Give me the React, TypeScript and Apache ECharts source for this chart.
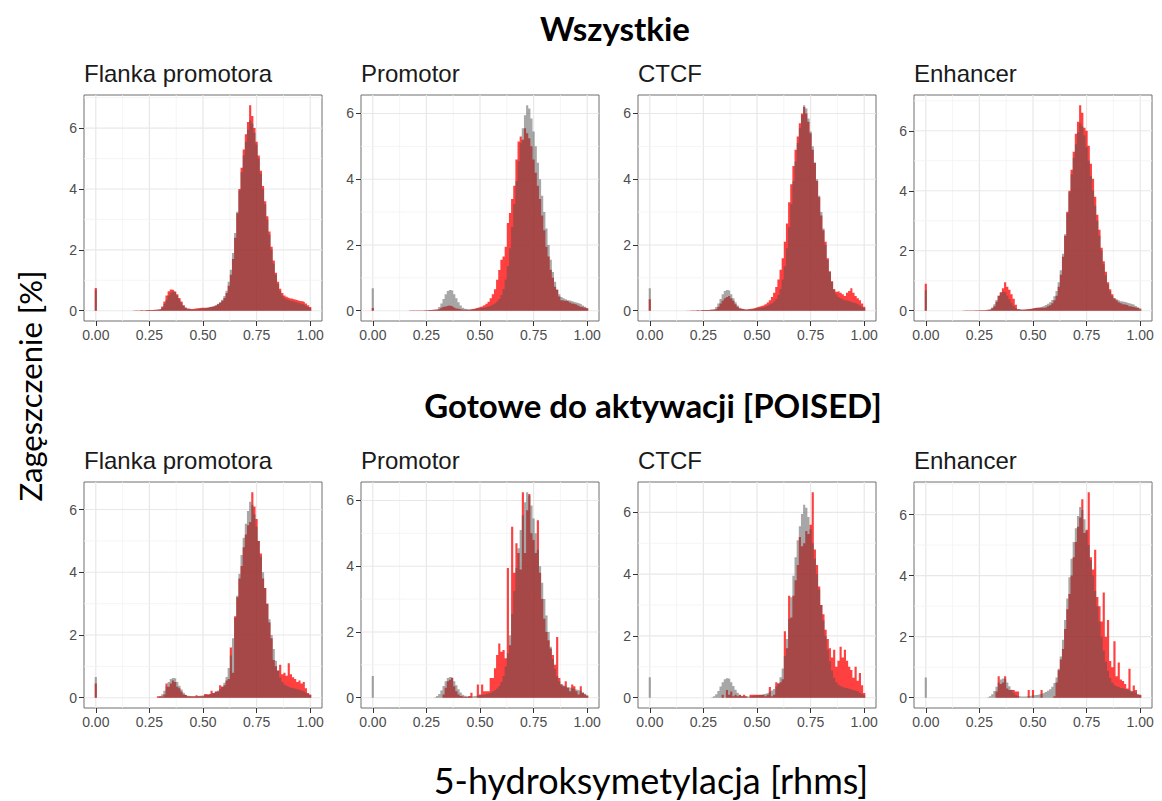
import React, { useEffect, useRef } from "react";
import * as echarts from "echarts";

// ---------- data ----------
const BIN_WIDTH = 0.01;
// bin centres: the 0.00 bin, then 0.17 ... 1.00
const BIN_CENTERS: number[] = [0, ...Array.from({ length: 84 }, (_, i) => Math.round((0.17 + i * 0.01) * 100) / 100)];

const REGIONS = ["Flanka promotora", "Promotor", "CTCF", "Enhancer"];
const ROW_TITLES = ["Wszystkie", "Gotowe do aktywacji [POISED]"];
const X_TICKS = [0, 0.25, 0.5, 0.75, 1];
const X_MINOR = [0.125, 0.375, 0.625, 0.875];
const Y_TICKS = [0, 2, 4, 6];
const Y_MINOR = [1, 3, 5, 7];
const Y_LABEL = "Zagęszczenie [%]";
const X_LABEL = "5-hydroksymetylacja [rhms]";

// each array: [bin 0.00, bins 0.17..0.19, 0.20..0.29, ..., 0.90..0.99, 1.00]
const GREY_ALL = [0.68,
  0.01, 0.01, 0.01,
  0.01, 0.01, 0.01, 0.01, 0.02, 0.02, 0.02, 0.02, 0.03, 0.04,
  0.05, 0.11, 0.22, 0.36, 0.50, 0.60, 0.63, 0.61, 0.50, 0.38,
  0.26, 0.16, 0.09, 0.06, 0.04, 0.04, 0.04, 0.05, 0.06, 0.07,
  0.08, 0.09, 0.10, 0.12, 0.14, 0.16, 0.19, 0.23, 0.28, 0.36,
  0.48, 0.66, 0.95, 1.35, 1.90, 2.55, 3.25, 3.95, 4.55, 5.10,
  5.55, 5.95, 6.25, 6.15, 5.85, 5.45, 5.00, 4.50, 4.00, 3.50,
  3.00, 2.50, 2.00, 1.55, 1.18, 0.88, 0.65, 0.50, 0.42, 0.38,
  0.35, 0.32, 0.30, 0.28, 0.26, 0.24, 0.22, 0.20, 0.16, 0.12,
  0.08];

const GREY_POISED = [0.66,
  0, 0, 0,
  0, 0, 0, 0, 0, 0, 0, 0, 0, 0.02,
  0.05, 0.11, 0.22, 0.36, 0.50, 0.60, 0.63, 0.61, 0.50, 0.38,
  0.26, 0.16, 0.09, 0.06, 0.04, 0.04, 0.04, 0.05, 0.06, 0.07,
  0.08, 0.09, 0.10, 0.12, 0.14, 0.16, 0.19, 0.23, 0.28, 0.36,
  0.48, 0.66, 0.95, 1.35, 1.90, 2.55, 3.25, 3.95, 4.55, 5.10,
  5.55, 5.95, 6.25, 6.15, 5.85, 5.45, 5.00, 4.50, 4.00, 3.50,
  3.00, 2.50, 2.00, 1.55, 1.18, 0.88, 0.65, 0.50, 0.42, 0.38,
  0.35, 0.32, 0.30, 0.28, 0.26, 0.24, 0.22, 0.20, 0.16, 0.12,
  0.08];

const RED_ALL_FLANK = [0.75,
  0.00, 0.01, 0.01,
  0.01, 0.02, 0.01, 0.02, 0.02, 0.02, 0.02, 0.03, 0.03, 0.04,
  0.06, 0.14, 0.30, 0.50, 0.64, 0.70, 0.68, 0.63, 0.54, 0.42,
  0.30, 0.18, 0.11, 0.07, 0.06, 0.06, 0.07, 0.08, 0.09, 0.10,
  0.10, 0.10, 0.11, 0.12, 0.13, 0.15, 0.17, 0.21, 0.26, 0.33,
  0.42, 0.58, 0.82, 1.18, 1.70, 2.40, 3.20, 4.00, 4.70, 5.30,
  5.80, 6.20, 6.75, 6.40, 6.00, 5.55, 5.10, 4.60, 4.10, 3.60,
  3.10, 2.60, 2.10, 1.65, 1.25, 0.95, 0.72, 0.58, 0.50, 0.46,
  0.43, 0.40, 0.38, 0.36, 0.34, 0.32, 0.31, 0.29, 0.24, 0.18,
  0.12];

const RED_ALL_PROMOTER = [0.08,
  0.01, 0.01, 0.01,
  0.01, 0.01, 0.01, 0.01, 0.01, 0.01, 0.02, 0.02, 0.03, 0.03,
  0.04, 0.06, 0.09, 0.12, 0.14, 0.16, 0.15, 0.13, 0.10, 0.07,
  0.05, 0.04, 0.03, 0.03, 0.03, 0.04, 0.05, 0.06, 0.08, 0.10,
  0.12, 0.14, 0.17, 0.21, 0.27, 0.38, 0.50, 0.65, 0.94, 1.24,
  1.55, 1.65, 1.95, 2.67, 2.97, 3.40, 3.80, 4.60, 5.15, 5.30,
  5.20, 5.55, 5.40, 5.25, 5.00, 4.60, 4.20, 3.80, 3.40, 2.90,
  2.45, 1.95, 1.65, 1.25, 1.00, 0.73, 0.63, 0.43, 0.32, 0.30,
  0.30, 0.28, 0.25, 0.22, 0.20, 0.18, 0.15, 0.12, 0.10, 0.08,
  0.06];

const RED_ALL_CTCF = [0.35,
  0.00, 0.00, 0.01,
  0.01, 0.01, 0.02, 0.01, 0.02, 0.02, 0.02, 0.02, 0.03, 0.03,
  0.04, 0.06, 0.12, 0.22, 0.30, 0.38, 0.42, 0.45, 0.38, 0.30,
  0.20, 0.12, 0.07, 0.05, 0.04, 0.04, 0.05, 0.06, 0.07, 0.09,
  0.11, 0.13, 0.15, 0.17, 0.20, 0.25, 0.32, 0.42, 0.55, 0.72,
  0.95, 1.25, 1.60, 2.10, 2.65, 3.30, 3.85, 4.40, 4.90, 5.30,
  5.70, 6.00, 6.20, 6.00, 5.75, 5.40, 4.90, 4.50, 3.95, 3.45,
  2.90, 2.45, 2.10, 1.60, 1.20, 0.90, 0.65, 0.58, 0.60, 0.55,
  0.50, 0.45, 0.55, 0.60, 0.68, 0.55, 0.45, 0.38, 0.32, 0.22,
  0.12];

const RED_ALL_ENHANCER = [0.90,
  0.00, 0.01, 0.01,
  0.01, 0.01, 0.01, 0.02, 0.01, 0.02, 0.02, 0.02, 0.02, 0.03,
  0.04, 0.08, 0.15, 0.30, 0.50, 0.62, 0.75, 0.95, 0.80, 0.70,
  0.55, 0.40, 0.20, 0.05, 0.03, 0.03, 0.04, 0.05, 0.06, 0.07,
  0.08, 0.10, 0.10, 0.10, 0.10, 0.10, 0.12, 0.15, 0.18, 0.25,
  0.35, 0.50, 0.80, 1.20, 1.80, 2.50, 3.30, 4.00, 4.70, 5.30,
  5.90, 6.30, 6.85, 6.60, 6.10, 6.00, 5.50, 4.90, 4.40, 3.80,
  3.20, 2.70, 2.10, 1.65, 1.30, 0.95, 0.72, 0.55, 0.42, 0.35,
  0.28, 0.25, 0.22, 0.20, 0.18, 0.15, 0.13, 0.12, 0.10, 0.08,
  0.05];

const RED_POISED_FLANK = [0.45,
  0, 0, 0,
  0, 0, 0, 0, 0, 0, 0, 0, 0, 0.05,
  0.05, 0.03, 0.10, 0.45, 0.35, 0.45, 0.55, 0.50, 0.35, 0.30,
  0.20, 0.10, 0.08, 0.05, 0.05, 0.05, 0.05, 0.08, 0.05, 0.05,
  0.05, 0.12, 0.10, 0.12, 0.22, 0.15, 0.20, 0.20, 0.40, 0.35,
  0.40, 0.55, 0.60, 1.60, 0.80, 2.60, 3.20, 3.80, 4.20, 4.80,
  5.20, 5.50, 5.60, 6.55, 6.10, 5.70, 5.00, 4.60, 3.80, 3.50,
  3.00, 2.40, 1.90, 1.20, 1.00, 0.85, 1.05, 0.75, 0.80, 0.70,
  1.10, 0.75, 0.65, 0.60, 0.50, 0.55, 0.45, 0.50, 0.30, 0.15,
  0.10];

const RED_POISED_PROMOTER = [0,
  0, 0, 0,
  0, 0, 0, 0, 0, 0, 0, 0, 0, 0,
  0, 0, 0, 0.10, 0.30, 0.50, 0.55, 0.60, 0.35, 0.20,
  0.10, 0.05, 0.03, 0.02, 0.02, 0.05, 0.15, 0, 0, 0.40,
  0.10, 0.40, 0.20, 0.20, 0.20, 0.60, 0.60, 0.90, 1.30, 1.65,
  1.40, 1.45, 1.20, 3.95, 1.60, 5.20, 3.80, 4.70, 4.40, 3.90,
  6.25, 4.40, 5.70, 6.20, 5.00, 4.80, 4.40, 5.40, 3.80, 3.00,
  2.40, 2.00, 1.75, 1.50, 1.30, 1.00, 1.85, 0.60, 0.40, 0.35,
  0.50, 0.30, 0.20, 0.40, 0.35, 0.20, 0.10, 0.35, 0.15, 0.10,
  0.05];

const RED_POISED_CTCF = [0,
  0, 0, 0,
  0, 0, 0, 0, 0, 0, 0, 0, 0, 0,
  0, 0, 0, 0, 0.10, 0, 0.25, 0.10, 0.20, 0.05,
  0.10, 0.05, 0.10, 0.05, 0.10, 0.05, 0, 0.10, 0.10, 0.10,
  0.10, 0.10, 0.10, 0.10, 0.05, 0.10, 0.35, 0.05, 0.10, 0.50,
  0.45, 0.50, 0.60, 2.15, 1.60, 3.30, 2.60, 3.30, 3.80, 4.30,
  5.20, 4.90, 5.00, 5.40, 5.30, 5.60, 6.65, 4.80, 4.30, 3.60,
  3.00, 2.70, 2.20, 1.90, 1.60, 1.30, 1.55, 1.00, 1.20, 1.65,
  1.30, 1.55, 1.20, 1.00, 0.90, 0.65, 1.00, 0.55, 0.80, 0.40,
  0.15];

const RED_POISED_ENHANCER = [0,
  0, 0, 0,
  0, 0, 0, 0, 0, 0, 0, 0, 0, 0,
  0, 0, 0, 0.20, 0.70, 0.45, 0.50, 0.70, 0.30, 0.25,
  0.25, 0.25, 0.20, 0.20, 0, 0, 0, 0, 0.25, 0,
  0.25, 0, 0, 0, 0.25, 0, 0, 0, 0, 0,
  0.05, 0.50, 0.90, 1.25, 1.60, 2.25, 2.90, 3.40, 4.00, 4.60,
  5.10, 5.60, 5.90, 6.50, 5.40, 5.50, 6.73, 4.60, 4.20, 4.85,
  3.30, 3.00, 2.50, 3.45, 2.00, 2.55, 1.20, 1.00, 1.85, 0.70,
  1.15, 0.60, 0.55, 0.45, 0.30, 0.95, 0.20, 0.40, 0.25, 0.10,
  0.10];

const RED_ROWS = [
  [RED_ALL_FLANK, RED_ALL_PROMOTER, RED_ALL_CTCF, RED_ALL_ENHANCER],
  [RED_POISED_FLANK, RED_POISED_PROMOTER, RED_POISED_CTCF, RED_POISED_ENHANCER],
];
const GREY_ROWS = [GREY_ALL, GREY_POISED];

// ---------- layout / style ----------
const PANEL_LEFT = [84, 361, 638, 914];
const PANEL_W = 238;
const ROW_TOP = [95, 482];
const PANEL_H = 226;
const PANEL_TITLE_Y = [73, 460];
const ROW_TITLE_POS = [[615, 28], [653, 405]];
const RED_FILL = "rgba(255,0,0,0.75)";
const GREY_FILL = "rgba(80,80,80,0.5)";
const SANS = "'Liberation Sans', Arial, sans-serif";
const HEAD = "Lato, 'Open Sans', sans-serif";

// histogram outline: each bin contributes its left and right edge at its height
function histogramPoints(values: number[]): number[][] {
  const pts: number[][] = [];
  const half = BIN_WIDTH / 2;
  BIN_CENTERS.forEach((x, k) => {
    const lo = Math.round((x - half) * 1000) / 1000;
    const hi = Math.round((x + half) * 1000) / 1000;
    if (k > 0) {
      const prevHi = Math.round((BIN_CENTERS[k - 1] + half) * 1000) / 1000;
      if (prevHi < lo) {
        pts.push([prevHi, 0]);
        pts.push([lo, 0]);
      }
    } else {
      pts.push([lo, 0]);
    }
    pts.push([lo, values[k]]);
    pts.push([hi, values[k]]);
  });
  const last = BIN_CENTERS[BIN_CENTERS.length - 1] + half;
  pts.push([Math.round(last * 1000) / 1000, 0]);
  return pts;
}

function gridRender(params: any, api: any) {
  const v = api.value(0);
  const orient = api.value(1);
  const major = api.value(2);
  const cs = params.coordSys;
  const style = { stroke: major ? "#e8e8e8" : "#f3f3f3", lineWidth: major ? 1.2 : 0.8 };
  if (orient === 0) {
    const p = api.coord([v, 0]);
    return { type: "line", shape: { x1: p[0], y1: cs.y, x2: p[0], y2: cs.y + cs.height }, style };
  }
  const p = api.coord([0, v]);
  return { type: "line", shape: { x1: cs.x, y1: p[1], x2: cs.x + cs.width, y2: p[1] }, style };
}

function histSeries(i: number, values: number[], fill: string, z: number) {
  return {
    type: "line", xAxisIndex: i, yAxisIndex: i, z, silent: true,
    symbol: "none", showSymbol: false, smooth: false,
    lineStyle: { width: 0, opacity: 0 },
    areaStyle: { color: fill, opacity: 1, origin: 0 },
    data: histogramPoints(values),
  };
}

function buildOption() {
  const grid: any[] = [];
  const xAxis: any[] = [];
  const yAxis: any[] = [];
  const series: any[] = [];
  const graphic: any[] = [];

  RED_ROWS.forEach((row, r) => {
    const grey = GREY_ROWS[r];
    row.forEach((red, c) => {
      const i = r * 4 + c;
      const m = Math.max(...red, ...grey);
      const yMin = -0.05 * m;
      const yMax = 1.05 * m;
      grid.push({
        left: PANEL_LEFT[c], top: ROW_TOP[r], width: PANEL_W, height: PANEL_H,
        show: true, backgroundColor: "#ffffff", borderColor: "#6e6e6e", borderWidth: 1,
      });
      xAxis.push({
        gridIndex: i, type: "value", min: -0.055, max: 1.055,
        axisLine: { show: false, onZero: false },
        axisTick: { show: true, length: 5, lineStyle: { color: "#333333", width: 1 }, customValues: X_TICKS },
        axisLabel: {
          customValues: X_TICKS, formatter: (v: number) => v.toFixed(2),
          color: "#4d4d4d", fontSize: 14, fontFamily: SANS, margin: 7,
        },
        splitLine: { show: false },
      });
      const yt = Y_TICKS.filter((v) => v <= yMax);
      yAxis.push({
        gridIndex: i, type: "value", min: yMin, max: yMax,
        axisLine: { show: false, onZero: false },
        axisTick: { show: true, length: 5, lineStyle: { color: "#333333", width: 1 }, customValues: yt },
        axisLabel: { customValues: yt, formatter: (v: number) => String(Math.round(v)), color: "#4d4d4d", fontSize: 14, fontFamily: SANS, margin: 7 },
        splitLine: { show: false },
      });
      const lines: number[][] = [];
      X_TICKS.forEach((v) => lines.push([v, 0, 1]));
      X_MINOR.forEach((v) => lines.push([v, 0, 0]));
      Y_TICKS.filter((v) => v <= yMax).forEach((v) => lines.push([v, 1, 1]));
      Y_MINOR.filter((v) => v <= yMax).forEach((v) => lines.push([v, 1, 0]));
      series.push({
        type: "custom", xAxisIndex: i, yAxisIndex: i, z: 1, silent: true,
        renderItem: gridRender, data: lines,
      });
      series.push(histSeries(i, red, RED_FILL, 2));
      series.push(histSeries(i, grey, GREY_FILL, 3));
      graphic.push({
        type: "text", x: PANEL_LEFT[c], y: PANEL_TITLE_Y[r],
        style: {
          text: REGIONS[c], font: `24px ${SANS}`, fill: "#1a1a1a",
          textAlign: "left", align: "left", textVerticalAlign: "middle", verticalAlign: "middle",
        },
      });
    });
    graphic.push({
      type: "text", x: ROW_TITLE_POS[r][0], y: ROW_TITLE_POS[r][1],
      style: {
        text: ROW_TITLES[r], font: `bold 33px ${HEAD}`, fill: "#000000",
        textAlign: "center", align: "center", textVerticalAlign: "middle", verticalAlign: "middle",
      },
    });
  });

  graphic.push({
    type: "text", x: 30, y: 386, rotation: Math.PI / 2,
    style: {
      text: Y_LABEL, font: `31px ${HEAD}`, fill: "#000000",
      textAlign: "center", align: "center", textVerticalAlign: "middle", verticalAlign: "middle",
    },
  });
  graphic.push({
    type: "text", x: 651, y: 780,
    style: {
      text: X_LABEL, font: `36px ${HEAD}`, fill: "#000000",
      textAlign: "center", align: "center", textVerticalAlign: "middle", verticalAlign: "middle",
    },
  });

  return { animation: false, backgroundColor: "#ffffff", grid, xAxis, yAxis, series, graphic };
}

export default function App() {
  const ref = useRef<HTMLDivElement>(null);
  useEffect(() => {
    if (!ref.current) return;
    const chart = echarts.init(ref.current, undefined, { renderer: "svg" });
    chart.setOption(buildOption() as any);
    return () => chart.dispose();
  }, []);
  return <div ref={ref} style={{ position: "fixed", left: 0, top: 0, width: 1162, height: 801 }} />;
}
